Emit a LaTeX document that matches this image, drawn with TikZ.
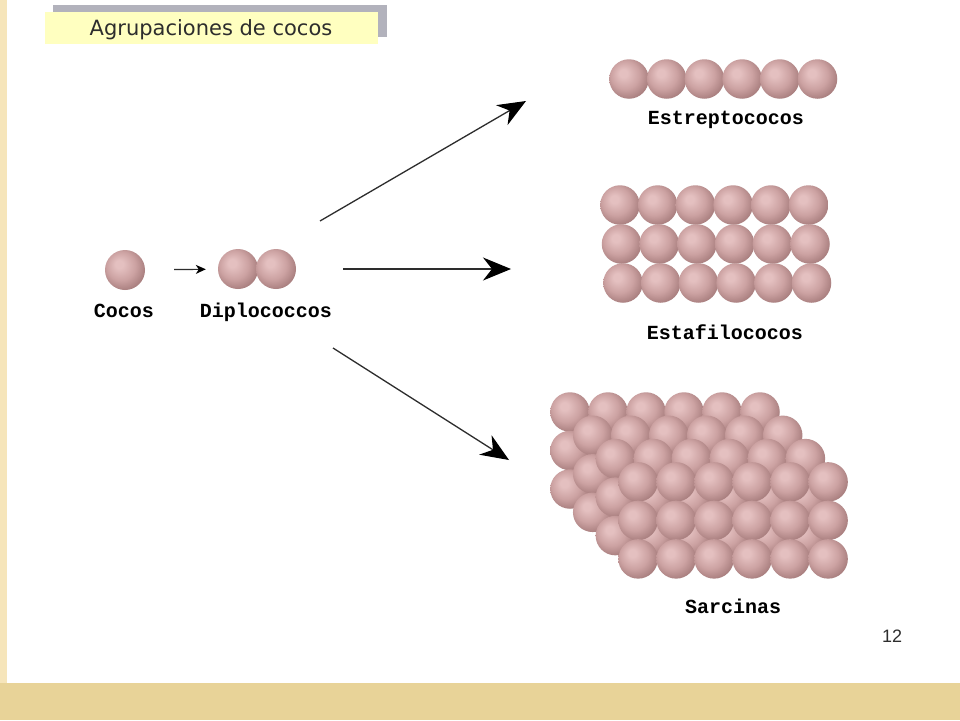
\documentclass[tikz,border=0pt]{standalone}
\usepackage{fontspec}
\setmainfont{DejaVu Sans}
\newfontfamily\labelfont{Liberation Mono}
\newfontfamily\numfont{Liberation Sans}
\usetikzlibrary{arrows.meta,positioning}

\definecolor{cocolight}{RGB}{228,192,192}
\definecolor{cocomid}{RGB}{204,162,162}
\definecolor{cocodark}{RGB}{162,120,120}
\definecolor{cocodeep}{RGB}{122,86,86}
\definecolor{stripe}{RGB}{246,229,186}
\definecolor{band}{RGB}{232,211,152}
\definecolor{shadow}{RGB}{178,178,188}
\definecolor{titlefill}{RGB}{255,255,192}
\definecolor{ink}{RGB}{45,45,45}
\pgfdeclareradialshading{coco}{\pgfpoint{-8bp}{8bp}}{color(0bp)=(cocolight); color(5bp)=(cocolight); color(18bp)=(cocomid); color(31bp)=(cocodark); color(50bp)=(cocodeep)}

\begin{document}
\begin{tikzpicture}[x=1pt, y=-1pt, node distance=37.7pt]
% Define block styles
\tikzstyle{coccus} = [circle, shading=coco, minimum size=39.5pt, inner sep=0pt]
\tikzstyle{grouptext} = [font=\labelfont\bfseries\fontsize{20}{20}\selectfont, text=black, anchor=base]
\tikzstyle{line} = [draw, color=ink, line width=1.3pt, -{Stealth[length=28pt, width=23pt, inset=9pt, color=black]}]
\tikzstyle{small line} = [draw, color=ink, line width=1.2pt, -{Stealth[length=10pt, width=9pt, inset=3pt, color=black]}]

    % Slide frame
    \useasboundingbox (0,0) rectangle (960,720);
    \fill[white] (0,0) rectangle (960,720);
    \fill[stripe] (0,0) rectangle (7,683);
    \fill[band] (0,683) rectangle (960,720);
    \fill[shadow] (53,5) rectangle (387,37);
    \fill[titlefill] (45,12) rectangle (378,44);
    \node[font=\fontsize{21}{21}\selectfont, text=ink] (title) at (211,30) {Agrupaciones de cocos};
    \node[font=\numfont\fontsize{18}{18}\selectfont, text=ink] (page) at (892,636) {12};

    % Place nodes
    \node [coccus, minimum size=40pt] (coco) at (125,270) {};
    \node [grouptext] (coco-name) at (124,317) {Cocos};
    \node [coccus, minimum size=40pt] (diplo1) at (238,269) {};
    \node [coccus, minimum size=40pt, right of=diplo1, node distance=38pt] (diplo2) {};
    \node [grouptext] (diplo-name) at (266,317) {Diplococcos};

    \node [coccus] (strep1) at (629,79) {};
    \foreach \i [remember=\i as \j (initially 1)] in {2,...,6}
        \node [coccus, right of=strep\j] (strep\i) {};
    \node [grouptext] (strep-name) at (726,124) {Estreptococos};

    \foreach \r/\y/\x in {1/205/620, 2/244/621.5, 3/283/623} {
        \node [coccus] (staph\r-1) at (\x,\y) {};
        \foreach \i [remember=\i as \j (initially 1)] in {2,...,6}
            \node [coccus, right of=staph\r-\j] (staph\r-\i) {};
    }
    \node [grouptext] (staph-name) at (725,339) {Estafilococos};

    \foreach \l in {0,...,3}
        \foreach \r in {0,1,2}
            \foreach \c in {0,...,5}
                \node [coccus] (sarc\l-\r-\c) at ({570+22.7*\l+38*\c},{412+23.3*\l+38.5*\r}) {};
    \node [grouptext] (sarc-name) at (733,613) {Sarcinas};

    % Arrow ends
    \coordinate (up-from) at (320,221);
    \coordinate (up-to) at (526,101);
    \coordinate (mid-from) at (343,269);
    \coordinate (mid-to) at (511,269);
    \coordinate (low-from) at (333,348);
    \coordinate (low-to) at (509,460);

    % Draw edges
    \path [small line, shorten <=29pt, shorten >=12pt] (coco) -- (diplo1);
    \path [line] (up-from) -- (up-to);
    \path [line] (mid-from) -- (mid-to);
    \path [line] (low-from) -- (low-to);
\end{tikzpicture}
\end{document}
